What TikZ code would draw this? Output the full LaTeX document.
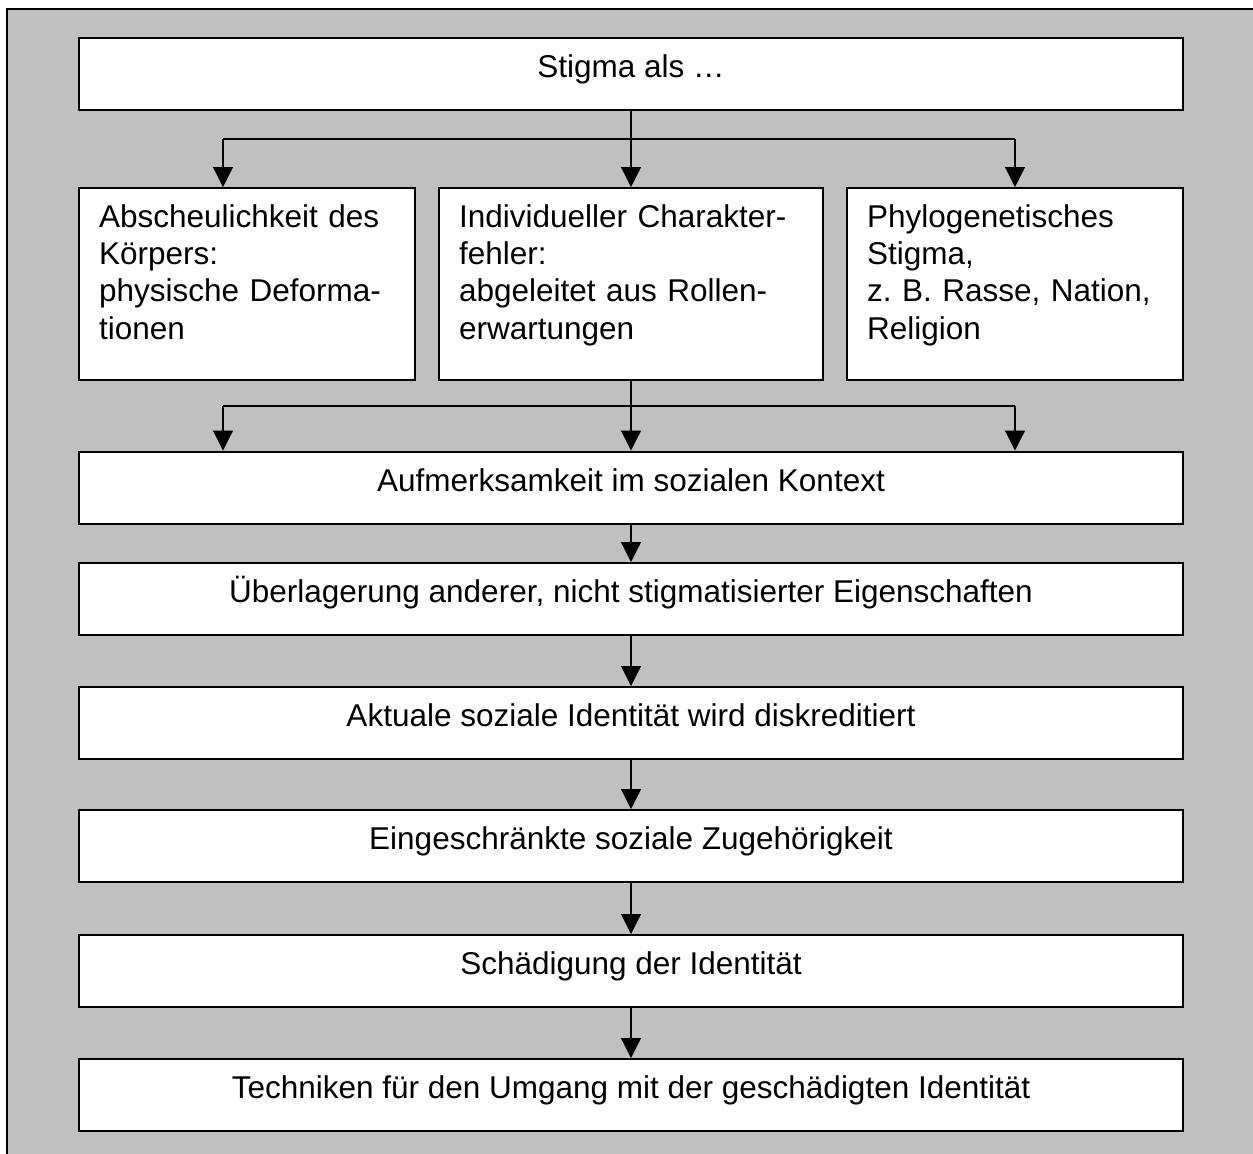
\documentclass[tikz,border=0pt]{standalone}
\usepackage{fontspec}
\setmainfont{Liberation Sans}
\usetikzlibrary{arrows.meta}
\definecolor{hintergrund}{RGB}{192,192,192}
\frenchspacing
\tikzset{
  kasten/.style={draw,line width=1pt,fill=white,inner xsep=10pt,inner ysep=0pt,
    font=\fontsize{15.75pt}{18.7pt}\selectfont},
  zeile/.style={minimum width=552pt,text height=19.75pt,text depth=16.25pt},
  spalte/.style={align=left,text height=19.5pt,text depth=76.5pt},
  linie/.style={line width=0.6pt},
  pfeil/.style={line width=0.6pt,-{Triangle[width=10pt,length=10pt]}}
}
\begin{document}
\begin{tikzpicture}[x=0.5pt,y=-0.5pt]
    \useasboundingbox (0,0) rectangle (1253,1153);
    \clip (0,0) rectangle (1253,1153);
    \draw[line width=1pt,fill=hintergrund] (7,9) rectangle (1290,1190);

    \node[kasten,zeile] (stigma) at (631,74) {Stigma als …};
    \node[kasten,spalte,text width=148pt] (links) at (247,284)
        {Abscheulichkeit des\\Körpers:\\physische Deforma-\\tionen};
    \node[kasten,spalte,text width=172pt] (mitte) at (631,284)
        {Individueller Charakter-\\fehler:\\abgeleitet aus Rollen-\\erwartungen};
    \node[kasten,spalte,text width=148pt] (rechts) at (1015,284)
        {Phylogenetisches\\Stigma,\\z. B. Rasse, Nation,\\Religion};
    \node[kasten,zeile] (aufmerksam) at (631,487.5) {Aufmerksamkeit im sozialen Kontext};
    \node[kasten,zeile] (ueberlagerung) at (631,599) {Überlagerung anderer, nicht stigmatisierter Eigenschaften};
    \node[kasten,zeile] (aktual) at (631,723) {Aktuale soziale Identität wird diskreditiert};
    \node[kasten,zeile] (zugehoerig) at (631,846) {Eingeschränkte soziale Zugehörigkeit};
    \node[kasten,zeile] (schaedigung) at (631,971) {Schädigung der Identität};
    \node[kasten,zeile] (techniken) at (631,1095) {Techniken für den Umgang mit der geschädigten Identität};

    \coordinate (obenL) at (223,139);
    \coordinate (obenR) at (1015,139);
    \coordinate (untenL) at (223,406);
    \coordinate (untenR) at (1015,406);

    \draw[pfeil] (stigma) -- (mitte);
    \draw[linie] (obenL) -- (obenR);
    \draw[pfeil] (obenL) -- (obenL |- links.north);
    \draw[pfeil] (obenR) -- (rechts);
    \draw[pfeil] (mitte) -- (aufmerksam);
    \draw[linie] (untenL) -- (untenR);
    \draw[pfeil] (untenL) -- (untenL |- aufmerksam.north);
    \draw[pfeil] (untenR) -- (untenR |- aufmerksam.north);
    \draw[pfeil] (aufmerksam) -- (ueberlagerung);
    \draw[pfeil] (ueberlagerung) -- (aktual);
    \draw[pfeil] (aktual) -- (zugehoerig);
    \draw[pfeil] (zugehoerig) -- (schaedigung);
    \draw[pfeil] (schaedigung) -- (techniken);
\end{tikzpicture}
\end{document}
